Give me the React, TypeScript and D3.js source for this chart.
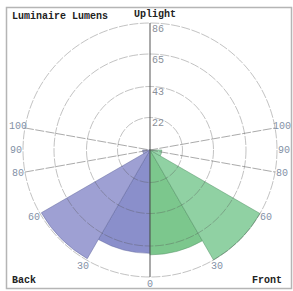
import { useEffect, useRef } from 'react'
import * as d3 from 'd3'

// angles measured from nadir (0 = straight down)
const angleTicks = [0, 30, 60, 80, 90, 100]
const ringTicks = [22, 43, 65, 86]
const zoneStart = [0, 30, 60]
const zoneEnd = [30, 60, 90]
const backLumens = [70, 85, 5]
const frontLumens = [71, 86, 8]
const maxLumens = 86

const W = 293
const H = 291
const cx = 150
const cy = 150
const R = 127
const FONT = '"Liberation Mono", "Courier New", monospace'

export default function App() {
  const svgRef = useRef<SVGSVGElement>(null)

  useEffect(() => {
    if (!svgRef.current) return
    const svg = d3.select(svgRef.current)
    svg.selectAll('*').remove()

    const r = d3.scaleLinear().domain([0, maxLumens]).range([0, R])
    const rad = (deg: number) => (deg * Math.PI) / 180
    // side: 1 = front (right), -1 = back (left)
    const pt = (side: number, deg: number, dist: number) => [
      cx + side * dist * Math.sin(rad(deg)),
      cy + dist * Math.cos(rad(deg)),
    ]

    // frame
    svg.append('rect')
      .attr('x', 6.5).attr('y', 7.5)
      .attr('width', 285).attr('height', 281)
      .attr('fill', 'white')
      .attr('stroke', '#b5b5b5')
      .attr('stroke-width', 1.5)

    const g = svg.append('g').attr('transform', `translate(${cx},${cy})`)
    const arc = d3.arc<any>()

    // wedges
    const sides = [
      { side: -1, values: backLumens, fills: ['#8a8fcb', '#9ea0d3', '#a9acd8'], stroke: '#5d6299' },
      { side: 1, values: frontLumens, fills: ['#7cc78d', '#90d1a3', '#9ad6ad'], stroke: '#4f8d61' },
    ]
    sides.forEach(s => {
      s.values.forEach((v, i) => {
        const a0 = s.side === 1 ? 180 - zoneEnd[i] : 180 + zoneStart[i]
        const a1 = s.side === 1 ? 180 - zoneStart[i] : 180 + zoneEnd[i]
        g.append('path')
          .attr('d', arc({ innerRadius: 0, outerRadius: r(v), startAngle: rad(a0), endAngle: rad(a1) }) as string)
          .attr('fill', s.fills[i])
          .attr('stroke', s.stroke)
          .attr('stroke-width', 0.6)
          .attr('stroke-opacity', 0.8)
      })
    })

    // rings
    ringTicks.forEach(t => {
      g.append('circle')
        .attr('r', r(t))
        .attr('fill', 'none')
        .attr('stroke', '#555')
        .attr('stroke-opacity', 0.6)
        .attr('stroke-width', 0.6)
        .attr('stroke-dasharray', '9,1.5')
    })

    // 80 / 100 spokes (diameters)
    ;[80, 100].forEach(a => {
      const [x1, y1] = pt(-1, a, R)
      const [x2, y2] = pt(1, 180 - a, R)
      svg.append('line')
        .attr('x1', x1).attr('y1', y1).attr('x2', x2).attr('y2', y2)
        .attr('stroke', '#666')
        .attr('stroke-opacity', 0.8)
        .attr('stroke-width', 0.7)
        .attr('stroke-dasharray', '9,1.5')
    })

    // vertical axis
    svg.append('line')
      .attr('x1', cx).attr('x2', cx)
      .attr('y1', cy - R).attr('y2', cy + R)
      .attr('stroke', '#555')
      .attr('stroke-width', 1)

    // ring labels
    ringTicks.forEach(t => {
      svg.append('text')
        .attr('x', cx + 2)
        .attr('y', cy - r(t) + 8.5)
        .attr('font-family', FONT)
        .attr('font-size', 10)
        .attr('fill', '#8a8f99')
        .text(t)
    })

    // angle labels
    angleTicks.forEach(a => {
      const sidesFor = a === 0 ? [1] : [-1, 1]
      sidesFor.forEach(side => {
        const [x, y] = pt(side, a, R + 7)
        svg.append('text')
          .attr('x', x)
          .attr('y', y)
          .attr('text-anchor', 'middle')
          .attr('dominant-baseline', 'central')
          .attr('font-family', FONT)
          .attr('font-size', 10)
          .attr('fill', '#8391a6')
          .text(a)
      })
    })

    // titles
    const title = (txt: string, x: number, y: number, anchor: string) =>
      svg.append('text')
        .attr('x', x).attr('y', y)
        .attr('text-anchor', anchor)
        .attr('font-family', FONT)
        .attr('font-size', 10)
        .attr('font-weight', 'bold')
        .attr('fill', '#222')
        .text(txt)

    title('Luminaire Lumens', 12, 19, 'start')
    title('Uplight', 155, 17, 'middle')
    title('Back', 12, 283, 'start')
    title('Front', 282, 283, 'end')
  }, [])

  return (
    <svg
      ref={svgRef}
      width={W}
      height={H}
      style={{ position: 'absolute', left: 0, top: 0, background: 'white' }}
    />
  )
}
